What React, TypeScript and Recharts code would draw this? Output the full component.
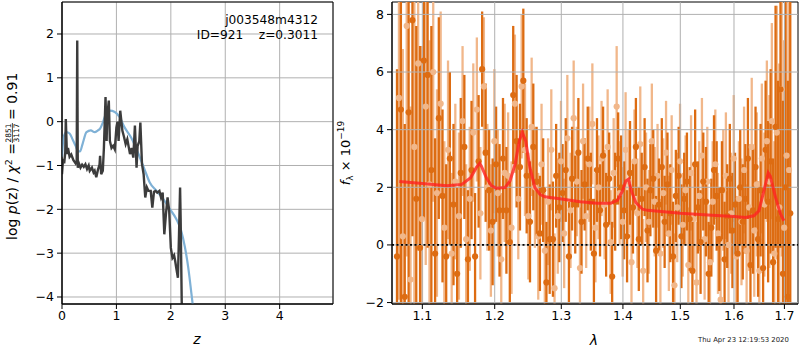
import React from 'react';
import {
  ComposedChart,
  Line,
  Scatter,
  XAxis,
  YAxis,
  CartesianGrid,
  ReferenceLine,
  ReferenceArea,
} from 'recharts';

const FONT = '"DejaVu Sans", sans-serif';
const DARK = '#dd6c12';
const LIGHT = '#f1b78a';
const GRID = '#b0b0b0';

// redshift panel: log p(z) and prior
const PZ_Z = [
  0, 0.02, 0.04, 0.06, 0.07, 0.09, 0.11, 0.14, 0.17, 0.21,
  0.25, 0.27, 0.28, 0.29, 0.31, 0.34, 0.37, 0.4, 0.43, 0.46,
  0.49, 0.51, 0.55, 0.58, 0.6, 0.63, 0.66, 0.69, 0.7, 0.72,
  0.75, 0.77, 0.8, 0.82, 0.83, 0.86, 0.88, 0.91, 0.94, 0.97,
  1.0, 1.02, 1.04, 1.07, 1.11, 1.14, 1.17, 1.2, 1.25, 1.28,
  1.31, 1.34, 1.37, 1.39, 1.42, 1.44, 1.47, 1.5, 1.53, 1.56,
  1.59, 1.63, 1.66, 1.69, 1.72, 1.75, 1.79, 1.82, 1.85, 1.88,
  1.91, 1.94, 1.97, 2.0, 2.03, 2.06, 2.08, 2.1, 2.13, 2.15,
  2.17, 2.18, 2.2, 2.23,
];
const PZ_LOGP = [
  -1.2, -0.85, -0.95, -0.7, 0.06, -0.74, -0.6, -0.8, -0.75, -0.88,
  -0.95, -0.9, 1.85, -1.05, -0.95, -1.05, -0.98, -1.03, -0.97, -1.08,
  -1.0, -1.12, -1.05, -1.16, -1.12, -1.27, -1.1, -0.98, -0.78, -1.2,
  -1.12, -0.6, 0.56, -0.44, 0.1, 0.48, -0.44, -0.6, -0.55, -0.63,
  -0.13, 0.0, -0.44, 0.25, -0.21, -0.35, -0.51, -0.4, -0.74, -0.6,
  -0.82, -0.09, -1.05, -0.55, -0.45, -0.02, -0.97, -1.2, -1.73, -1.5,
  -1.58, -1.58, -1.96, -1.6, -1.58, -1.62, -1.58, -1.73, -1.62, -2.57,
  -2.11, -1.73, -2.04, -2.88, -3.11, -3.05, -3.18, -3.34, -3.56, -2.6,
  -1.5, -2.2, -4.1, -5.5,
];
const PRIOR_Z = [
  0, 0.03, 0.08, 0.14, 0.2, 0.25, 0.3, 0.33, 0.38, 0.45, 0.53, 0.6, 0.66,
  0.7, 0.75, 0.8, 0.88, 0.97, 1.06, 1.15, 1.27, 1.4, 1.52, 1.61, 1.73,
  1.86, 1.98, 2.1, 2.19, 2.26, 2.32, 2.38, 2.44, 2.5,
];
const PRIOR_LOGP = [
  -0.8, -0.35, -0.24, -0.27, -0.42, -0.55, -0.68, -0.68, -0.5, -0.24, -0.2,
  -0.24, -0.2, -0.16, -0.02, 0.15, 0.25, 0.22, 0.1, -0.13, -0.36, -0.72,
  -1.1, -1.38, -1.57, -1.76, -1.99, -2.22, -2.49, -2.87, -3.33, -3.94,
  -4.6, -5.4,
];

// spectrum panel
const DARK_WAVE = [
  1.067, 1.072, 1.077, 1.082, 1.087, 1.092, 1.097, 1.102, 1.107, 1.112,
  1.117, 1.122, 1.127, 1.132, 1.137, 1.142, 1.147, 1.152, 1.157, 1.162,
  1.167, 1.172, 1.177, 1.182, 1.187, 1.192, 1.197, 1.202, 1.207, 1.212,
  1.217, 1.222, 1.227, 1.232, 1.237, 1.242, 1.247, 1.252, 1.257, 1.262,
  1.267, 1.272, 1.277, 1.282, 1.287, 1.292, 1.297, 1.302, 1.307, 1.312,
  1.317, 1.322, 1.327, 1.332, 1.337, 1.342, 1.347, 1.352, 1.357, 1.362,
  1.367, 1.372, 1.377, 1.382, 1.387, 1.392, 1.397, 1.402, 1.407, 1.412,
  1.417, 1.422, 1.427, 1.432, 1.437, 1.442, 1.447, 1.452, 1.457, 1.462,
  1.467, 1.472, 1.477, 1.482, 1.487, 1.492, 1.497, 1.502, 1.507, 1.512,
  1.517, 1.522, 1.527, 1.532, 1.537, 1.542, 1.547, 1.552, 1.557, 1.562,
  1.567, 1.572, 1.577, 1.582, 1.587, 1.592, 1.597, 1.602, 1.607, 1.612,
  1.617, 1.622, 1.627, 1.632, 1.637, 1.642, 1.647, 1.652, 1.657, 1.662,
  1.667, 1.672, 1.677, 1.682, 1.687, 1.692, 1.697, 1.702, 1.707, 1.712,
];
const DARK_FLUX = [
  -0.4, 4.7, -1.8, 4.6, 7.8, 1.6, -0.1, 6.4, 5.9, 2.6,
  -0.3, 4.4, 1.7, -0.4, 3.0, 1.4, -1.0, 2.5, 3.4, -0.5,
  2.6, -0.4, 2.9, 6.1, 3.2, 1.9, 0.8, 2.8, 1.2, 3.0,
  1.2, 0.1, 5.2, 3.6, 2.7, 5.7, 2.4, 0.8, 3.4, 2.2,
  0.4, 1.9, -1.3, 0.2, 0.2, 2.4, 1.3, 1.8, 2.6, -0.4,
  2.3, 1.4, 3.2, 0.8, 2.1, 3.0, 1.5, -0.3, 2.6, 1.2,
  3.1, 0.7, 2.3, -1.1, 1.5, 3.0, 2.0, 1.2, 0.3, 2.5,
  1.3, 3.4, 0.2, 1.6, 2.7, 0.5, 1.9, 2.3, -0.2, 1.4,
  2.7, 0.8, 2.1, 1.1, -0.4, 1.7, 2.4, 0.3, 1.6, 2.2,
  0.9, -0.9, 2.8, 1.3, 0.1, 2.2, 1.5, -1.0, 0.6, 2.6,
  1.7, 0.2, 1.9, -0.5, 1.0, 2.3, 0.5, 1.4, -0.3, 2.0,
  0.8, 1.6, 3.0, -0.7, 1.2, 2.7, 0.2, 1.9, -0.8, 3.3,
  1.5, 2.9, -0.6, 4.1, 0.9, 5.4, -1.0, 2.0, -1.8, 1.1,
];
const DARK_ERR = [
  6.5, 7.0, 6.0, 8.0, 7.5, 6.0, 7.0, 5.5, 6.0, 5.0,
  4.0, 3.5, 3.0, 3.2, 3.0, 2.8, 3.0, 2.6, 2.5, 2.4,
  2.4, 2.2, 2.3, 2.0, 2.4, 2.1, 2.2, 2.0, 2.3, 2.1,
  2.2, 2.1, 2.4, 2.3, 2.2, 2.5, 2.0, 2.1, 2.2, 1.9,
  2.0, 1.8, 2.1, 1.9, 2.0, 1.8, 1.9, 1.7, 1.8, 1.9,
  1.8, 1.7, 1.9, 1.8, 1.6, 1.8, 1.7, 1.9, 1.8, 1.6,
  1.7, 1.8, 1.6, 1.9, 1.7, 1.6, 1.8, 1.7, 1.6, 1.8,
  1.6, 1.7, 1.8, 1.6, 1.7, 1.8, 1.6, 1.7, 1.9, 1.6,
  1.7, 1.6, 1.8, 1.7, 1.9, 1.6, 1.7, 1.8, 1.6, 1.7,
  1.8, 1.7, 1.9, 1.6, 1.8, 1.7, 1.9, 1.8, 1.7, 1.9,
  1.9, 1.8, 1.7, 2.0, 1.8, 1.9, 2.0, 1.8, 1.9, 2.0,
  2.0, 1.9, 2.1, 2.0, 2.2, 2.1, 2.0, 2.3, 2.2, 2.4,
  2.8, 3.2, 3.6, 4.2, 4.8, 5.5, 6.0, 6.8, 7.5, 8.0,
];
const LIGHT_WAVE = [
  1.0695, 1.0745, 1.0795, 1.0845, 1.0895, 1.0945, 1.0995, 1.1045, 1.1095, 1.1145,
  1.1195, 1.1245, 1.1295, 1.1345, 1.1395, 1.1445, 1.1495, 1.1545, 1.1595, 1.1645,
  1.1695, 1.1745, 1.1795, 1.1845, 1.1895, 1.1945, 1.1995, 1.2045, 1.2095, 1.2145,
  1.2195, 1.2245, 1.2295, 1.2345, 1.2395, 1.2445, 1.2495, 1.2545, 1.2595, 1.2645,
  1.2695, 1.2745, 1.2795, 1.2845, 1.2895, 1.2945, 1.2995, 1.3045, 1.3095, 1.3145,
  1.3195, 1.3245, 1.3295, 1.3345, 1.3395, 1.3445, 1.3495, 1.3545, 1.3595, 1.3645,
  1.3695, 1.3745, 1.3795, 1.3845, 1.3895, 1.3945, 1.3995, 1.4045, 1.4095, 1.4145,
  1.4195, 1.4245, 1.4295, 1.4345, 1.4395, 1.4445, 1.4495, 1.4545, 1.4595, 1.4645,
  1.4695, 1.4745, 1.4795, 1.4845, 1.4895, 1.4945, 1.4995, 1.5045, 1.5095, 1.5145,
  1.5195, 1.5245, 1.5295, 1.5345, 1.5395, 1.5445, 1.5495, 1.5545, 1.5595, 1.5645,
  1.5695, 1.5745, 1.5795, 1.5845, 1.5895, 1.5945, 1.5995, 1.6045, 1.6095, 1.6145,
  1.6195, 1.6245, 1.6295, 1.6345, 1.6395, 1.6445, 1.6495, 1.6545, 1.6595, 1.6645,
  1.6695, 1.6745, 1.6795, 1.6845, 1.6895, 1.6945, 1.6995, 1.7045, 1.7095,
];
const LIGHT_FLUX = [
  5.1, 0.3, 7.6, -1.2, 3.4, 6.3, 0.9, 4.8, 2.1, 6.0,
  1.8, 4.9, 0.6, 3.3, -0.3, 2.2, 1.0, 4.3, 0.2, 1.6,
  3.9, 4.7, 1.1, 5.5, 2.0, 0.5, 3.6, 1.8, -0.5, 2.5,
  2.4, 0.6, 4.9, 1.6, 5.5, 3.3, 1.0, 4.1, 2.0, 0.3,
  2.8, -0.2, 1.5, 3.3, -1.5, 1.0, 2.9, 0.4, 3.7, 1.2,
  4.4, 2.2, -0.8, 3.6, 1.0, 2.8, 4.2, 0.6, 2.0, 3.0,
  1.4, 3.4, 0.1, 2.5, 4.8, 1.8, 0.8, 3.3, 2.2, -0.6,
  2.9, 1.1, 3.5, -0.9, 2.0, 0.8, 3.6, 1.5, 2.4, -0.3,
  1.8, 3.2, 0.4, 2.6, -1.4, 1.3, 2.9, 0.7, 1.9, -0.7,
  2.5, 0.9, -1.3, 1.7, 3.1, 0.2, 2.2, -0.6, 1.5, 2.8,
  0.4, -1.9, 1.9, 2.4, 0.0, 1.1, 3.0, -0.4, 1.6, 0.8,
  2.6, -0.2, 1.3, 3.4, 0.5, 2.1, -0.9, 3.0, 1.4, 3.6,
  2.2, 4.3, -0.3, 3.9, 1.3, 5.4, 0.6, 3.1, 2.6,
];
const LIGHT_ERR = [
  7.0, 6.5, 8.0, 6.0, 7.0, 6.5, 6.0, 5.5, 5.0, 4.5,
  3.6, 3.2, 3.0, 3.1, 2.8, 2.7, 2.9, 2.6, 2.6, 2.5,
  2.4, 2.5, 2.3, 2.4, 2.2, 2.3, 2.5, 2.2, 2.3, 2.4,
  2.2, 2.3, 2.4, 2.1, 2.5, 2.3, 2.2, 2.4, 2.1, 2.2,
  2.1, 2.0, 2.2, 2.1, 1.9, 2.0, 2.1, 1.9, 2.2, 2.0,
  2.0, 1.9, 2.1, 2.0, 1.8, 2.0, 2.1, 1.9, 1.8, 2.0,
  1.9, 2.0, 1.8, 1.9, 2.1, 1.8, 1.9, 2.0, 1.8, 1.9,
  1.8, 1.9, 2.0, 1.8, 1.9, 1.8, 2.0, 1.9, 1.8, 1.9,
  1.9, 1.8, 2.0, 1.9, 1.8, 1.9, 2.0, 1.8, 1.9, 2.0,
  2.0, 1.9, 2.1, 1.9, 2.0, 2.1, 1.9, 2.0, 2.1, 1.9,
  2.1, 2.0, 2.1, 2.2, 2.0, 2.1, 2.2, 2.1, 2.0, 2.2,
  2.2, 2.3, 2.2, 2.4, 2.3, 2.5, 2.4, 2.6, 2.5, 2.8,
  3.0, 3.4, 3.9, 4.4, 5.0, 5.8, 6.5, 7.2, 8.0,
];
const MODEL_WAVE = [
  1.07, 1.1, 1.1326, 1.1535, 1.1658, 1.1737, 1.1785, 1.181, 1.188, 1.1954,
  1.2024, 1.2149, 1.2222, 1.2297, 1.236, 1.2404, 1.2456, 1.2519, 1.2594,
  1.267, 1.2746, 1.3005, 1.33, 1.3575, 1.3797, 1.3908, 1.3992, 1.4048,
  1.4095, 1.4144, 1.4219, 1.4334, 1.4421, 1.5, 1.5586, 1.6, 1.6225, 1.6386,
  1.6486, 1.6585, 1.6672, 1.6713, 1.6821, 1.6922, 1.6989,
];
const MODEL_FLUX = [
  2.2, 2.13, 2.05, 2.1, 2.33, 2.68, 2.83, 2.73, 2.33, 2.05,
  1.97, 1.99, 2.22, 2.79, 3.6, 3.91, 3.6, 2.68, 1.99,
  1.76, 1.67, 1.59, 1.5, 1.45, 1.45, 1.55, 1.87, 2.22,
  2.28, 1.87, 1.47, 1.24, 1.2, 1.1, 1.03, 0.99, 0.95, 1.01,
  1.18, 1.87, 2.5, 2.39, 1.64, 1.07, 0.84,
];

const Z_TICKS = [0, 1, 2, 3, 4];
const LOGP_TICKS = [-4, -3, -2, -1, 0, 1, 2];
const WAVE_TICKS = [1.1, 1.2, 1.3, 1.4, 1.5, 1.6, 1.7];
const FLUX_TICKS = [-2, 0, 2, 4, 6, 8];

const Z_DOMAIN = [0, 4.98];
const LOGP_DOMAIN = [-4.16, 2.73];
const WAVE_DOMAIN = [1.0606, 1.728];
const FLUX_DOMAIN = [-2.05, 8.43];

const pzData = PZ_Z.map((x, i) => ({ x, y: PZ_LOGP[i] }));
const priorData = PRIOR_Z.map((x, i) => ({ x, y: PRIOR_LOGP[i] }));
const darkData = DARK_WAVE.map((x, i) => ({ x, y: DARK_FLUX[i], err: DARK_ERR[i] }));
const lightData = LIGHT_WAVE.map((x, i) => ({ x, y: LIGHT_FLUX[i], err: LIGHT_ERR[i] }));
const modelData = MODEL_WAVE.map((x, i) => ({ x, y: MODEL_FLUX[i] }));

const minus = (v: number) => String(v).replace('-', '\u2212');
const tickStyle = { fill: '#000', fontSize: 12.5, fontFamily: FONT };

// vertical error bars, clipped to the plot area by the chart
function errorBars(data: { x: number; y: number; err: number }[], color: string, key: string) {
  return data.map((d, i) => (
    <ReferenceLine
      key={`${key}-${i}`}
      segment={[
        { x: d.x, y: d.y - d.err },
        { x: d.x, y: d.y + d.err },
      ]}
      stroke={color}
      strokeWidth={2.3}
      ifOverflow="hidden"
    />
  ));
}

export default function App() {
  return (
    <div
      style={{
        position: 'fixed',
        left: 0,
        top: 0,
        width: 800,
        height: 350,
        background: '#fff',
        fontFamily: FONT,
      }}
    >
      <div style={{ position: 'absolute', left: 0, top: 0 }}>
        <ComposedChart
          width={340}
          height={350}
          margin={{ top: 2, right: 7, bottom: 16, left: 32 }}
        >
          <CartesianGrid stroke={GRID} strokeWidth={1} />
          <XAxis
            type="number"
            dataKey="x"
            domain={Z_DOMAIN}
            ticks={Z_TICKS}
            allowDataOverflow
            height={30}
            tickSize={5}
            tickMargin={2}
            axisLine={{ stroke: '#000' }}
            tickLine={{ stroke: '#000' }}
            tick={tickStyle}
            tickFormatter={minus}
          />
          <YAxis
            type="number"
            domain={LOGP_DOMAIN}
            ticks={LOGP_TICKS}
            allowDataOverflow
            width={30}
            tickSize={5}
            tickMargin={3}
            axisLine={{ stroke: '#000' }}
            tickLine={{ stroke: '#000' }}
            tick={tickStyle}
            tickFormatter={minus}
          />
          <Line
            data={priorData}
            dataKey="y"
            type="monotone"
            stroke="#7fb1d6"
            strokeWidth={2.2}
            dot={false}
            isAnimationActive={false}
          />
          <Line
            data={pzData}
            dataKey="y"
            type="linear"
            stroke="#3c3c3c"
            strokeWidth={2.4}
            dot={false}
            isAnimationActive={false}
          />
          <ReferenceArea
            x1={Z_DOMAIN[0]}
            x2={Z_DOMAIN[1]}
            y1={LOGP_DOMAIN[0]}
            y2={LOGP_DOMAIN[1]}
            fill="none"
            stroke="#000"
            strokeWidth={1}
            fillOpacity={0}
          />
        </ComposedChart>
      </div>

      <div style={{ position: 'absolute', left: 340, top: 0 }}>
        <ComposedChart
          width={460}
          height={350}
          margin={{ top: 2, right: 2, bottom: 16, left: 22 }}
        >
          <XAxis
            type="number"
            dataKey="x"
            scale="log"
            domain={WAVE_DOMAIN}
            ticks={WAVE_TICKS}
            allowDataOverflow
            height={30}
            tickSize={5}
            tickMargin={2}
            axisLine={{ stroke: '#000' }}
            tickLine={{ stroke: '#000' }}
            tick={tickStyle}
          />
          <YAxis
            type="number"
            dataKey="y"
            domain={FLUX_DOMAIN}
            ticks={FLUX_TICKS}
            allowDataOverflow
            width={30}
            tickSize={5}
            tickMargin={3}
            axisLine={{ stroke: '#000' }}
            tickLine={{ stroke: '#000' }}
            tick={tickStyle}
            tickFormatter={minus}
          />
          {errorBars(lightData, LIGHT, 'l')}
          {errorBars(darkData, DARK, 'd')}
          {WAVE_TICKS.map((t) => (
            <ReferenceLine key={`gx-${t}`} x={t} stroke={GRID} strokeWidth={1} />
          ))}
          {FLUX_TICKS.map((t) => (
            <ReferenceLine key={`gy-${t}`} y={t} stroke={GRID} strokeWidth={1} />
          ))}
          <ReferenceLine
            y={0}
            stroke="#000"
            strokeWidth={1.8}
            strokeDasharray="2 2.5"
          />
          <Scatter
            data={lightData}
            isAnimationActive={false}
            shape={(p: any) => <circle cx={p.cx} cy={p.cy} r={3.1} fill={LIGHT} />}
          />
          <Scatter
            data={darkData}
            isAnimationActive={false}
            shape={(p: any) => <circle cx={p.cx} cy={p.cy} r={3.1} fill={DARK} />}
          />
          <Scatter
            data={modelData}
            isAnimationActive={false}
            line={{ stroke: '#ff2222', strokeOpacity: 0.8, strokeWidth: 3 }}
            lineType="joint"
            shape={() => <g />}
          />
          <ReferenceArea
            x1={WAVE_DOMAIN[0]}
            x2={WAVE_DOMAIN[1]}
            y1={FLUX_DOMAIN[0]}
            y2={FLUX_DOMAIN[1]}
            fill="none"
            stroke="#000"
            strokeWidth={1}
            fillOpacity={0}
          />
        </ComposedChart>
      </div>

      <svg
        width={800}
        height={350}
        style={{ position: 'absolute', left: 0, top: 0, pointerEvents: 'none' }}
        fontFamily={FONT}
      >
        <text x={318} y={24} fontSize={12.2} textAnchor="end" fill="#000">
          j003548m4312
        </text>
        <text x={318} y={38.5} fontSize={12.2} textAnchor="end" fill="#000" style={{ whiteSpace: 'pre' }}>
          {'ID=921    z=0.3011'}
        </text>

        <g transform="translate(17,240) rotate(-90)" fill="#000">
          <text x={0} y={0} fontSize={14}>
            log <tspan fontStyle="italic">p</tspan>(z) / <tspan fontStyle="italic">χ</tspan>
            <tspan fontSize={9.5} dy={-5.5}>2</tspan>
            <tspan dy={5.5}> =</tspan>
          </text>
          <text x={107} y={-5.8} fontSize={7.5} textAnchor="middle">2851</text>
          <line x1={97} x2={117} y1={-4.6} y2={-4.6} stroke="#000" strokeWidth={0.7} />
          <text x={107} y={2.2} fontSize={7.5} textAnchor="middle">3117</text>
          <text x={120} y={0} fontSize={14}>= 0.91</text>
        </g>

        <text x={197} y={344} fontSize={14} fontStyle="italic" textAnchor="middle" fill="#000">
          z
        </text>

        <g transform="translate(349.5,153) rotate(-90)" fill="#000">
          <text x={0} y={0} fontSize={13} textAnchor="middle">
            <tspan fontStyle="italic">f</tspan>
            <tspan fontSize={9} dy={3}>λ</tspan>
            <tspan dy={-3}> × 10</tspan>
            <tspan fontSize={9} dy={-6}>−19</tspan>
          </text>
        </g>

        <text x={594} y={344.5} fontSize={14} fontStyle="italic" textAnchor="middle" fill="#000">
          λ
        </text>
        <text x={698} y={342} fontSize={6.9} fill="#222">
          Thu Apr 23 12:19:53 2020
        </text>
      </svg>
    </div>
  );
}
